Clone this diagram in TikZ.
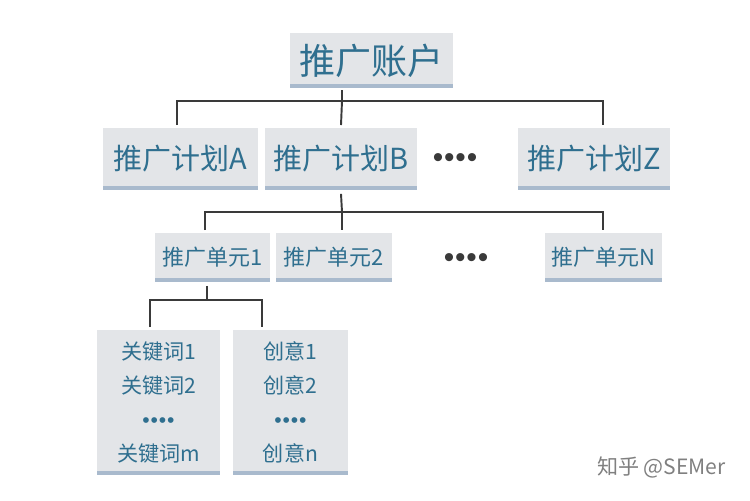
\documentclass[tikz,border=0pt]{standalone}
\usepackage{fontspec}
\setmainfont{Noto Sans CJK SC}
\newfontfamily\latfont{Liberation Sans}
\definecolor{boxgray}{HTML}{E3E5E8}
\definecolor{stripblue}{HTML}{A9BACD}
\definecolor{textblue}{HTML}{2F6F8F}
\definecolor{linegray}{HTML}{3A3A3A}
\newcommand{\fourdots}{{\latfont\textbullet\kern0.5pt\textbullet\kern0.5pt\textbullet\kern0.5pt\textbullet}}
\tikzset{
  box/.style={fill=boxgray, inner sep=0pt, text=textblue,
    path picture={\fill[stripblue] (path picture bounding box.south west) rectangle ([yshift=2.2pt]path picture bounding box.south east);}},
  conn/.style={draw=linegray, line width=1.1pt},
  dots/.style={text=linegray, font=\fontsize{17}{17}\selectfont}
}
\begin{document}
\begin{tikzpicture}[x=0.02cm,y=-0.02cm]
  \useasboundingbox (0,0) rectangle (750,500);
  % Blocks
  \node [box, minimum width=163*0.02cm, minimum height=55*0.02cm, font=\fontsize{20.5}{20.5}\selectfont] (acct) at (371.5,60.5) {推广账户};
  \node [box, minimum width=155*0.02cm, minimum height=62*0.02cm, font=\fontsize{16.5}{16.5}\selectfont] (planA) at (180.5,159) {推广计划A};
  \node [box, minimum width=152*0.02cm, minimum height=62*0.02cm, font=\fontsize{16.5}{16.5}\selectfont] (planB) at (341,159) {推广计划B};
  \node [dots] (pdots) at (455,161) {\fourdots};
  \node [box, minimum width=152*0.02cm, minimum height=62*0.02cm, font=\fontsize{16.5}{16.5}\selectfont] (planZ) at (594,159) {推广计划Z};
  \node [box, minimum width=115*0.02cm, minimum height=49*0.02cm, font=\fontsize{12.5}{12.5}\selectfont] (unit1) at (212.5,257.5) {推广单元1};
  \node [box, minimum width=116*0.02cm, minimum height=49*0.02cm, font=\fontsize{12.5}{12.5}\selectfont] (unit2) at (334,257.5) {推广单元2};
  \node [dots] (udots) at (466,261) {\fourdots};
  \node [box, minimum width=117*0.02cm, minimum height=49*0.02cm, font=\fontsize{12.5}{12.5}\selectfont] (unitN) at (603.5,257.5) {推广单元N};
  \node [box, align=center, minimum width=123*0.02cm, minimum height=145*0.02cm, font=\fontsize{12}{19.3}\selectfont] (kw) at (158.5,402.5) {关键词1\\关键词2\\\fourdots\\关键词m};
  \node [box, align=center, minimum width=115*0.02cm, minimum height=145*0.02cm, font=\fontsize{12}{19.3}\selectfont] (idea) at (290.5,402.5) {创意1\\创意2\\\fourdots\\创意n};
  \node [text=gray, font=\fontsize{12}{12}\selectfont, anchor=east] (mark) at (732,467) {知乎 @SEMer};
  \coordinate (j1) at (342,101);
  \coordinate (j2) at (342,212);
  \coordinate (j3) at (207,300);

  % Connections
  \draw [conn] ([yshift=-1pt]acct.south -| j1) -- (j1);
  \draw [conn] ([xshift=-3.5*0.02cm,yshift=1.5pt]planA.north) |- (j1) -| ([xshift=9*0.02cm,yshift=1.5pt]planZ.north);
  \draw [conn] (j1) -- ([yshift=1.5pt]planB.north);
  \draw [conn] ([yshift=-2pt]planB.south) -- (j2);
  \draw [conn] ([xshift=-7.5*0.02cm,yshift=1.5pt]unit1.north) |- (j2) -| ([xshift=-0.5*0.02cm,yshift=1.5pt]unitN.north);
  \draw [conn] (j2) -- ([yshift=1.5pt]unit2.north -| j2);
  \draw [conn] ([xshift=-5.5*0.02cm,yshift=-2pt]unit1.south) -- (j3);
  \draw [conn] ([xshift=-8.5*0.02cm,yshift=1.5pt]kw.north) |- (j3) -| ([xshift=-28.5*0.02cm,yshift=1.5pt]idea.north);
\end{tikzpicture}
\end{document}
